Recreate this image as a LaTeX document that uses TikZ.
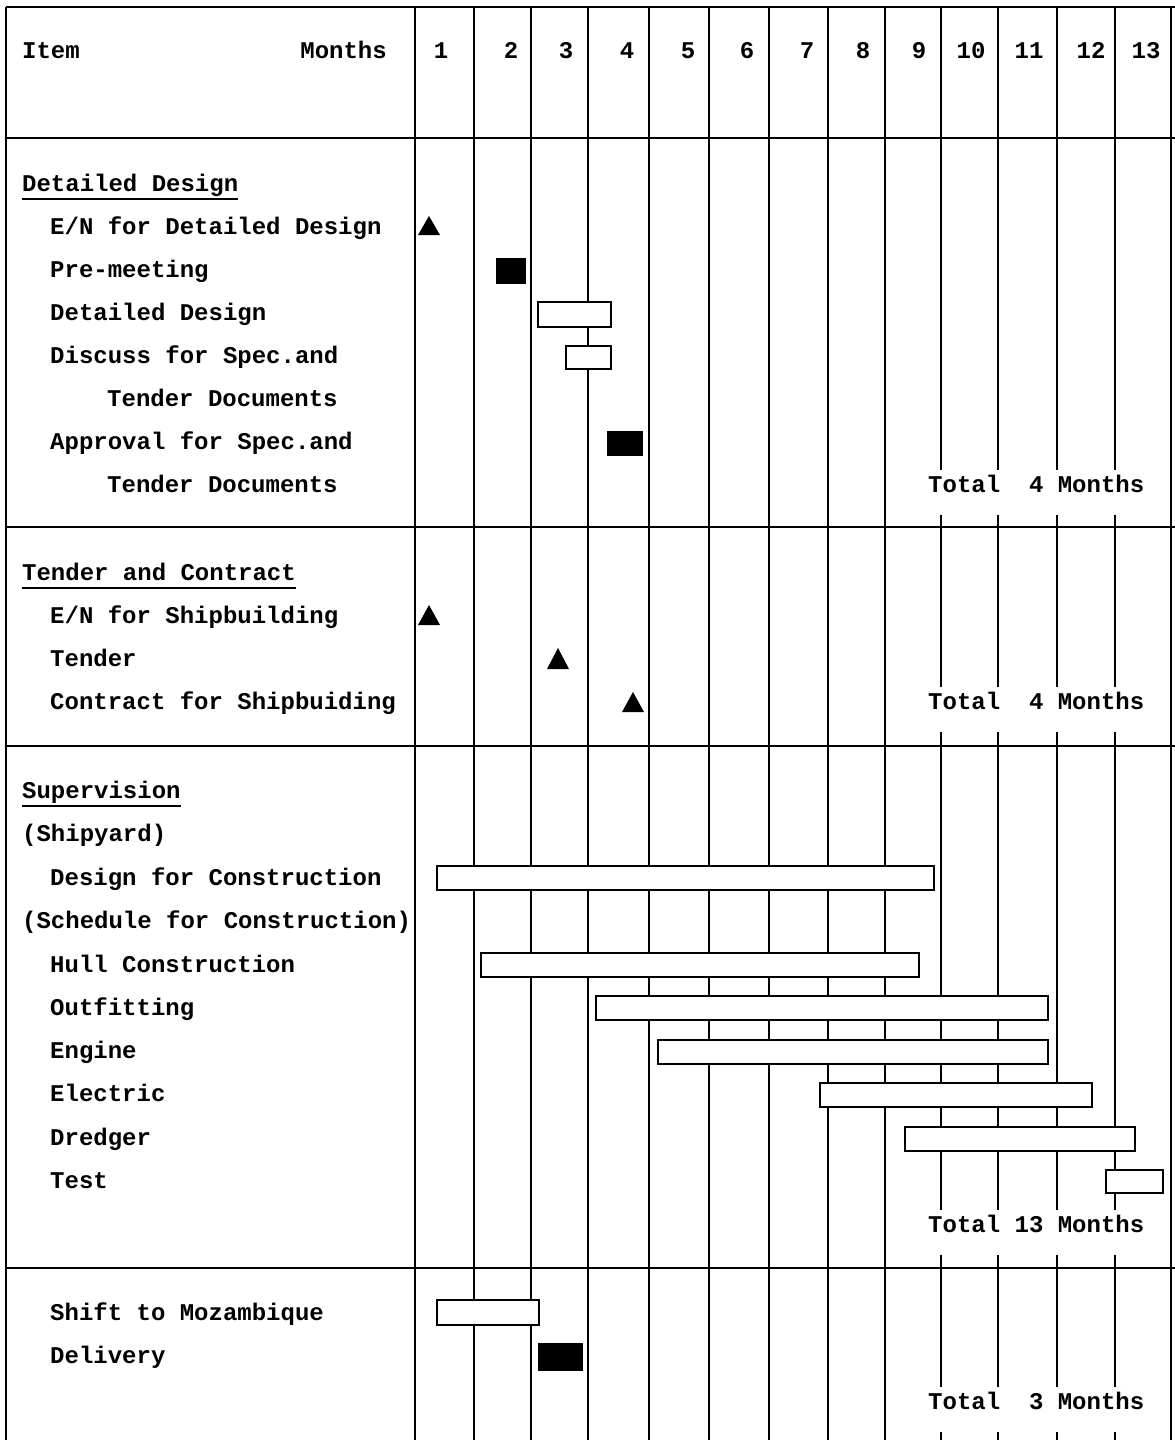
\documentclass[tikz,border=0pt]{standalone}
\usepackage{fontspec}
\newfontfamily\dotfont{Liberation Mono}
\begin{document}
\begin{tikzpicture}[x=1pt,y=-1pt,
  lbl/.style={anchor=base west, inner sep=0pt, font=\dotfont\bfseries\fontsize{24}{28}\selectfont},
  lblr/.style={lbl, anchor=base east},
  lblc/.style={lbl, anchor=base},
  gridline/.style={line width=2.8pt},
  hline/.style={line width=1.5pt},
  uline/.style={line width=1.8pt},
  bar/.style={draw, fill=white, line width=2.8pt},
  fbar/.style={draw, fill=black, line width=1pt},
  tri/.style={fill=black}]
\useasboundingbox (0,0) rectangle (1175,1440);
\fill[white] (0,0) rectangle (1175,1440);

% vertical grid lines
\foreach \x in {6,415,474,531,588,649,709,769,828,885,1171}
  \draw[gridline] (\x,7) -- (\x,1440);
\foreach \x in {941,998,1057,1115}
  \draw[gridline] (\x,7) -- (\x,470) (\x,515) -- (\x,687) (\x,732) -- (\x,1210)
                  (\x,1255) -- (\x,1387) (\x,1432) -- (\x,1440);

% horizontal lines
\foreach \y in {7,138,527,746,1268}
  \draw[hline] (6,\y) -- (1175,\y);

% header
\node[lbl]  (item)   at (22,58)  {Item};
\node[lblr] (months) at (387,58) {Months};
\node[lblc] (m1)  at (441,58)  {1};
\node[lblc] (m2)  at (511,58)  {2};
\node[lblc] (m3)  at (566,58)  {3};
\node[lblc] (m4)  at (627,58)  {4};
\node[lblc] (m5)  at (688,58)  {5};
\node[lblc] (m6)  at (747,58)  {6};
\node[lblc] (m7)  at (807,58)  {7};
\node[lblc] (m8)  at (863,58)  {8};
\node[lblc] (m9)  at (919,58)  {9};
\node[lblc] (m10) at (971,58)  {10};
\node[lblc] (m11) at (1029,58) {11};
\node[lblc] (m12) at (1091,58) {12};
\node[lblc] (m13) at (1146,58) {13};

% section 1
\node[lbl] (h1) at (22,191) {Detailed Design};
\draw[uline] ([yshift=-8pt]h1.base west) -- ([yshift=-8pt]h1.base east);
\node[lbl] (a1) at (50,234)  {E/N for Detailed Design};
\node[lbl] (a2) at (50,277)  {Pre-meeting};
\node[lbl] (a3) at (50,320)  {Detailed Design};
\node[lbl] (a4) at (50,363)  {Discuss for Spec.and};
\node[lbl] (a5) at (107,406) {Tender Documents};
\node[lbl] (a6) at (50,449)  {Approval for Spec.and};
\node[lbl] (a7) at (107,492) {Tender Documents};
\node[lbl] (t1) at (928,492) {Total~~4 Months};

\fill[tri] (418,235) -- (440,235) -- (429,216) -- cycle;
\draw[fbar] (496,258) rectangle (525,283);
\draw[bar]  (538,302) rectangle (611,327);
\draw[bar]  (566,346) rectangle (611,369);
\draw[fbar] (607,431) rectangle (642,455);

% section 2
\node[lbl] (h2) at (22,580) {Tender and Contract};
\draw[uline] ([yshift=-8pt]h2.base west) -- ([yshift=-8pt]h2.base east);
\node[lbl] (b1) at (50,623) {E/N for Shipbuilding};
\node[lbl] (b2) at (50,666) {Tender};
\node[lbl] (b3) at (50,709) {Contract for Shipbuiding};
\node[lbl] (t2) at (928,709) {Total~~4 Months};

\fill[tri] (418,625) -- (440,625) -- (429,605) -- cycle;
\fill[tri] (547,669) -- (569,669) -- (558,648) -- cycle;
\fill[tri] (622,712) -- (644,712) -- (633,692) -- cycle;

% section 3
\node[lbl] (h3) at (22,798) {Supervision};
\draw[uline] ([yshift=-8pt]h3.base west) -- ([yshift=-8pt]h3.base east);
\node[lbl] (c1) at (22,841)  {(Shipyard)};
\node[lbl] (c2) at (50,885)  {Design for Construction};
\node[lbl] (c3) at (22,928)  {(Schedule for Construction)};
\node[lbl] (c4) at (50,972)  {Hull Construction};
\node[lbl] (c5) at (50,1015) {Outfitting};
\node[lbl] (c6) at (50,1058) {Engine};
\node[lbl] (c7) at (50,1101) {Electric};
\node[lbl] (c8) at (50,1145) {Dredger};
\node[lbl] (c9) at (50,1188) {Test};
\node[lbl] (t3) at (928,1232) {Total 13 Months};

\draw[bar] (437,866)  rectangle (934,890);
\draw[bar] (481,953)  rectangle (919,977);
\draw[bar] (596,996)  rectangle (1048,1020);
\draw[bar] (658,1040) rectangle (1048,1064);
\draw[bar] (820,1083) rectangle (1092,1107);
\draw[bar] (905,1127) rectangle (1135,1151);
\draw[bar] (1106,1170) rectangle (1163,1193);

% section 4
\node[lbl] (d1) at (50,1320) {Shift to Mozambique};
\node[lbl] (d2) at (50,1363) {Delivery};
\node[lbl] (t4) at (928,1409) {Total~~3 Months};

\draw[bar]  (437,1300) rectangle (539,1325);
\draw[fbar] (538,1343) rectangle (582,1370);
\end{tikzpicture}
\end{document}
